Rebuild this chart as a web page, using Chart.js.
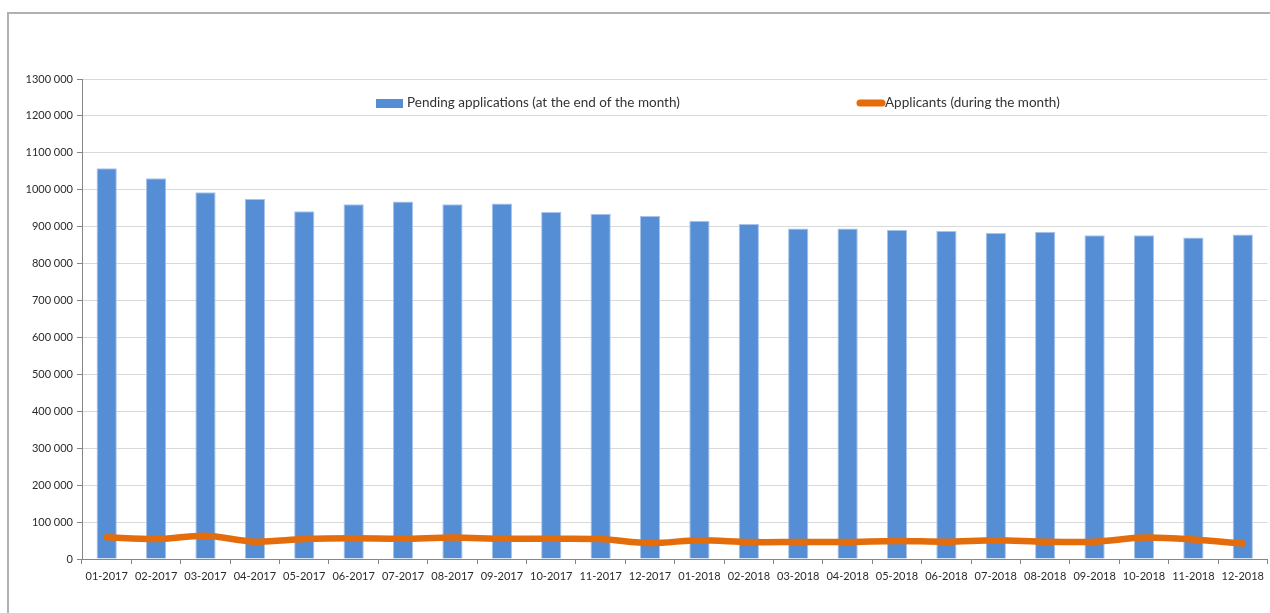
<!DOCTYPE html>
<html>
<head>
<meta charset="utf-8">
<script src="https://cdn.jsdelivr.net/npm/chart.js"></script>
<style>
  body { margin: 0; background: #fff; }
  #frame { position: absolute; left: 7px; top: 12px; right: -5px; bottom: -5px;
           border-top: 2px solid #b0b0b0; border-left: 2px solid #b0b0b0; }
  #wrap { position: absolute; left: 0; top: 0; width: 1270px; height: 613px; }
</style>
</head>
<body>
<div id="frame"></div>
<div id="wrap"><canvas id="myChart" width="1270" height="613"></canvas></div>
<script>
var months = ["01-2017","02-2017","03-2017","04-2017","05-2017","06-2017","07-2017","08-2017","09-2017","10-2017","11-2017","12-2017",
              "01-2018","02-2018","03-2018","04-2018","05-2018","06-2018","07-2018","08-2018","09-2018","10-2018","11-2018","12-2018"];
var pending = [1058000,1031000,993000,975000,942000,961000,968000,961000,963000,940000,935000,929000,
               916000,907000,895000,895000,891000,888000,883000,886000,877000,877000,871000,879000];
var applicants = [59000,54000,63000,47000,54000,56000,55000,58000,55000,55000,54000,43000,
                  51000,46000,46000,46000,49000,47000,51000,47000,47000,58000,53000,42000];
var pendingLabel = "Pending applications (at the end of the month)";
var applicantsLabel = "Applicants (during the month)";

// "1300 000" style: only the last group of three is split off
function fmt(v) {
  if (v < 1000) return String(v);
  var rest = String(v % 1000);
  while (rest.length < 3) rest = "0" + rest;
  return Math.floor(v / 1000) + " " + rest;
}

// legend sits inside the plot area, between the two top gridlines
var legendInPlot = {
  id: 'legendInPlot',
  afterDraw: function(chart) {
    var ctx = chart.ctx;
    var y = 103;
    ctx.save();
    ctx.font = '13.5px Lato';
    ctx.textBaseline = 'middle';
    ctx.fillStyle = '#558ED5';
    ctx.fillRect(376, y - 4, 27, 9);
    ctx.fillStyle = '#333';
    ctx.fillText(chart.data.datasets[0].label, 407, y);
    ctx.strokeStyle = '#E46C0A';
    ctx.lineWidth = 7;
    ctx.lineCap = 'round';
    ctx.beginPath();
    ctx.moveTo(860, y);
    ctx.lineTo(882, y);
    ctx.stroke();
    ctx.fillText(chart.data.datasets[1].label, 885, y);
    ctx.restore();
  }
};

var ctx = document.getElementById('myChart').getContext('2d');
var chart = new Chart(ctx, {
  type: 'bar',
  data: {
    labels: months,
    datasets: [{
      label: pendingLabel,
      data: pending,
      backgroundColor: '#558ED5',
      borderColor: '#A9C4EB',
      borderWidth: 1,
      barPercentage: 0.41,
      categoryPercentage: 1,
      order: 2
    }, {
      label: applicantsLabel,
      type: 'line',
      data: applicants,
      borderColor: '#E46C0A',
      backgroundColor: '#E46C0A',
      borderWidth: 6.5,
      borderCapStyle: 'round',
      borderJoinStyle: 'round',
      tension: 0.3,
      pointRadius: 0,
      fill: false,
      order: 1
    }]
  },
  options: {
    responsive: false,
    animation: false,
    layout: { padding: { top: 79, right: 2, left: 0, bottom: 0 } },
    plugins: {
      legend: { display: false },
      tooltip: { enabled: false }
    },
    scales: {
      x: {
        afterFit: function(s) { s.height = 54; },
        grid: { drawOnChartArea: false, drawTicks: true, tickLength: 5, color: '#868686' },
        border: { color: '#868686' },
        ticks: { color: '#2b2b2b', font: { family: 'Lato', size: 11 }, padding: 6, maxRotation: 0, autoSkip: false }
      },
      y: {
        min: 0,
        max: 1300000,
        afterFit: function(s) { s.width = 82; },
        grid: { color: '#d9d9d9', tickColor: '#868686', tickLength: 5 },
        border: { color: '#868686' },
        ticks: {
          stepSize: 100000,
          color: '#2b2b2b',
          font: { family: 'Lato', size: 11 },
          padding: 4,
          callback: function(v) { return fmt(v); }
        }
      }
    }
  },
  plugins: [legendInPlot]
});
</script>
</body>
</html>
